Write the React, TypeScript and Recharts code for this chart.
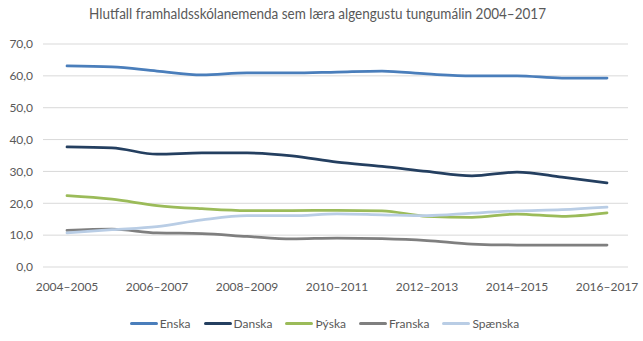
import React from "react";
import { LineChart, Line, XAxis, YAxis, CartesianGrid } from "recharts";

const years = [
  "2004–2005", "2005–2006", "2006–2007", "2007–2008", "2008–2009", "2009–2010",
  "2010–2011", "2011–2012", "2012–2013", "2013–2014", "2014–2015", "2015–2016", "2016–2017",
];
const enska = [63.1, 62.8, 61.5, 60.3, 60.9, 60.9, 61.2, 61.5, 60.6, 60.0, 60.0, 59.3, 59.3];
const danska = [37.7, 37.4, 35.4, 35.8, 35.8, 34.9, 32.9, 31.6, 30.0, 28.6, 29.8, 28.2, 26.4];
const thyska = [22.4, 21.3, 19.3, 18.3, 17.7, 17.7, 17.8, 17.6, 15.9, 15.6, 16.6, 15.9, 17.0];
const franska = [11.5, 11.9, 10.7, 10.5, 9.6, 8.8, 9.1, 8.9, 8.3, 7.2, 6.9, 6.9, 6.9];
const spaenska = [10.7, 11.7, 12.7, 14.8, 16.1, 16.1, 16.7, 16.4, 16.1, 16.9, 17.6, 18.0, 18.8];
const yTicks = [0, 10, 20, 30, 40, 50, 60, 70];
const title = "Hlutfall framhaldsskólanemenda sem læra algengustu tungumálin 2004–2017";

const series = [
  { key: "Enska", values: enska, color: "#4a7ebb" },
  { key: "Danska", values: danska, color: "#243f60" },
  { key: "Þýska", values: thyska, color: "#9bbb59" },
  { key: "Franska", values: franska, color: "#7f7f7f" },
  { key: "Spænska", values: spaenska, color: "#b9cde5" },
];

const data = years.map((y, i) => {
  const row: Record<string, string | number> = { year: y };
  series.forEach((s) => {
    row[s.key] = s.values[i];
  });
  return row;
});

const FONT = "Lato, 'Open Sans', sans-serif";
const TEXT = "#595959";

export default function App() {
  return (
    <div style={{ position: "absolute", left: 0, top: 0, width: 643, height: 341, background: "#fff", fontFamily: FONT }}>
      <svg width={643} height={30} style={{ position: "absolute", left: 0, top: 0 }}>
        <text x={89} y={19} fontSize={14.5} fill={TEXT} fontFamily={FONT} textLength={457} lengthAdjust="spacingAndGlyphs">
          {title}
        </text>
      </svg>
      <div style={{ position: "absolute", left: 0, top: 0 }}>
        <LineChart width={643} height={341} data={data} margin={{ top: 44, right: 15, left: 0, bottom: 44 }}>
          <CartesianGrid horizontal vertical={false} stroke="#d9d9d9" strokeWidth={1} />
          <XAxis
            dataKey="year"
            interval={1}
            axisLine={false}
            tickLine={false}
            tickSize={0}
            tickMargin={15}
            height={30}
            padding={{ left: 24, right: 21 }}
            tick={{ fill: TEXT, fontSize: 12, fontFamily: FONT }}
          />
          <YAxis
            domain={[0, 70]}
            ticks={yTicks}
            width={43}
            axisLine={false}
            tickLine={false}
            tickSize={0}
            tickMargin={10}
            tickFormatter={(v: number) => v.toFixed(1).replace(".", ",")}
            tick={{ fill: TEXT, fontSize: 12, fontFamily: FONT }}
          />
          {series.map((s) => (
            <Line
              key={s.key}
              dataKey={s.key}
              type="monotone"
              stroke={s.color}
              strokeWidth={2.75}
              strokeLinecap="round"
              dot={false}
              activeDot={false}
              isAnimationActive={false}
            />
          ))}
        </LineChart>
      </div>
      <div
        style={{
          position: "absolute",
          left: 0,
          top: 314,
          width: 643,
          display: "flex",
          justifyContent: "center",
          alignItems: "center",
          gap: 13,
          fontSize: 12,
          color: TEXT,
          paddingLeft: 6,
          boxSizing: "border-box",
        }}
      >
        {series.map((s) => (
          <div key={s.key} style={{ display: "flex", alignItems: "center", height: 18 }}>
            <div style={{ width: 28, height: 3, background: s.color, borderRadius: 1.5, marginRight: 2 }} />
            <span>{s.key}</span>
          </div>
        ))}
      </div>
    </div>
  );
}
